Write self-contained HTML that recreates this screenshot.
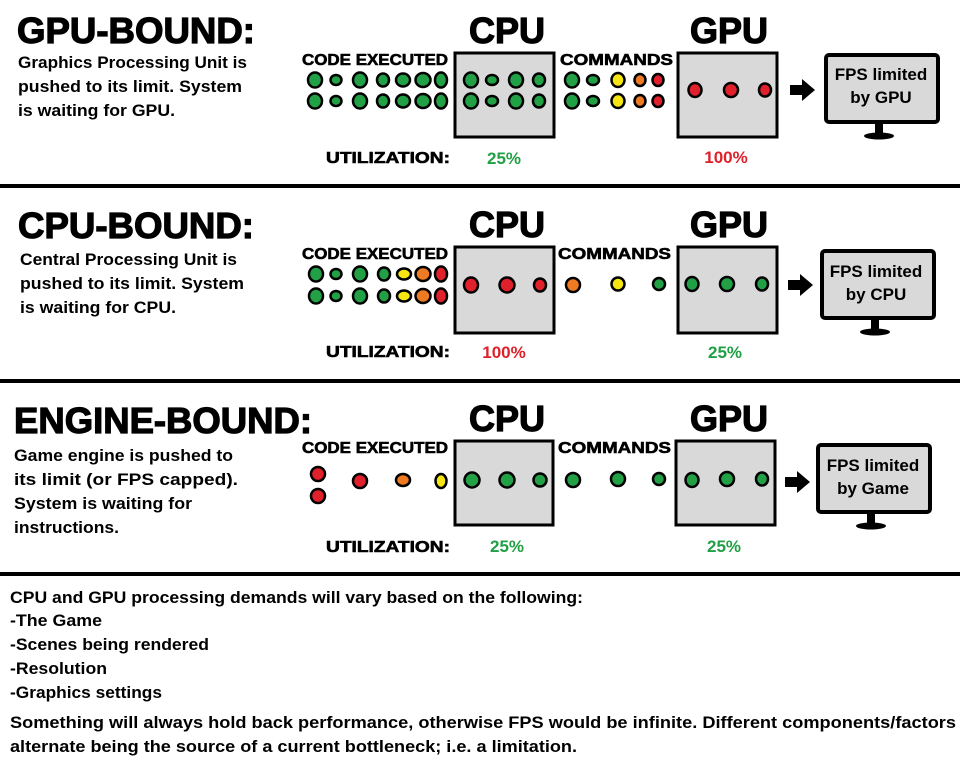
<!DOCTYPE html>
<html><head><meta charset="utf-8"><style>
html,body{margin:0;padding:0;background:#fff;}
svg{display:block;}
text{font-family:"Liberation Sans",sans-serif;font-weight:bold;fill:#000;}
.heavy{stroke:#000;stroke-width:1.2px;}
.med{stroke:#000;stroke-width:0.6px;}
</style></head><body>
<svg width="960" height="768" viewBox="0 0 960 768" xmlns="http://www.w3.org/2000/svg">
<defs>
<g id="mon">
<rect x="0" y="0" width="112" height="67" rx="3" fill="#d9d9d9" stroke="#000" stroke-width="4"/>
<rect x="49" y="67" width="8" height="12" fill="#000"/>
<ellipse cx="53" cy="81" rx="15" ry="3.5" fill="#000"/>
</g>
<g id="arr"><polygon points="0,-5 12,-5 12,-11 25,0 12,11 12,5 0,5" fill="#000"/></g>
</defs>
<g stroke="#000" stroke-width="2.5">
<g fill="#22a045">
<ellipse cx="315" cy="80" rx="7" ry="7.5"/><ellipse cx="336" cy="80" rx="5.5" ry="5"/><ellipse cx="360" cy="80" rx="7" ry="7.5"/><ellipse cx="383" cy="80" rx="6" ry="6.5"/><ellipse cx="403" cy="80" rx="7" ry="6.5"/><ellipse cx="423" cy="80" rx="7.5" ry="7"/><ellipse cx="441" cy="80" rx="6" ry="7.5"/>
<ellipse cx="315" cy="101" rx="7" ry="7.5"/><ellipse cx="336" cy="101" rx="5.5" ry="5"/><ellipse cx="360" cy="101" rx="7" ry="7.5"/><ellipse cx="383" cy="101" rx="6" ry="6.5"/><ellipse cx="403" cy="101" rx="7" ry="6.5"/><ellipse cx="423" cy="101" rx="7.5" ry="7"/><ellipse cx="441" cy="101" rx="6" ry="7.5"/>
</g>
<rect x="455" y="53" width="99" height="84" fill="#d9d9d9" stroke-width="3"/>
<g fill="#22a045">
<ellipse cx="471" cy="80" rx="7" ry="7.5"/><ellipse cx="492" cy="80" rx="6" ry="5"/><ellipse cx="516" cy="80" rx="7" ry="7.5"/><ellipse cx="539" cy="80" rx="6" ry="6.5"/>
<ellipse cx="471" cy="101" rx="7" ry="7.5"/><ellipse cx="492" cy="101" rx="6" ry="5"/><ellipse cx="516" cy="101" rx="7" ry="7.5"/><ellipse cx="539" cy="101" rx="6" ry="6.5"/>
<ellipse cx="572" cy="80" rx="7" ry="7.5"/><ellipse cx="593" cy="80" rx="6" ry="5"/>
<ellipse cx="572" cy="101" rx="7" ry="7.5"/><ellipse cx="593" cy="101" rx="6" ry="5"/>
</g>
<ellipse cx="618" cy="80" rx="6.5" ry="7" fill="#f5e513"/><ellipse cx="618" cy="101" rx="6.5" ry="7" fill="#f5e513"/>
<ellipse cx="640" cy="80" rx="5.5" ry="6" fill="#ee7a22"/><ellipse cx="640" cy="101" rx="5.5" ry="6" fill="#ee7a22"/>
<ellipse cx="658" cy="80" rx="5.5" ry="6" fill="#e0202a"/><ellipse cx="658" cy="101" rx="5.5" ry="6" fill="#e0202a"/>
<rect x="678" y="53" width="99" height="84" fill="#d9d9d9" stroke-width="3"/>
<ellipse cx="695" cy="90" rx="6.5" ry="7" fill="#e0202a"/><ellipse cx="731" cy="90" rx="7" ry="7" fill="#e0202a"/><ellipse cx="765" cy="90" rx="6" ry="6.5" fill="#e0202a"/>

<g fill="#22a045">
<ellipse cx="316" cy="274" rx="7" ry="7.5"/><ellipse cx="336" cy="274" rx="5.5" ry="5"/><ellipse cx="360" cy="274" rx="7" ry="7.5"/><ellipse cx="384" cy="274" rx="6" ry="6.5"/>
<ellipse cx="316" cy="296" rx="7" ry="7.5"/><ellipse cx="336" cy="296" rx="5.5" ry="5"/><ellipse cx="360" cy="296" rx="7" ry="7.5"/><ellipse cx="384" cy="296" rx="6" ry="6.5"/>
</g>
<ellipse cx="404" cy="274" rx="7" ry="5.5" fill="#f5e513"/><ellipse cx="404" cy="296" rx="7" ry="5.5" fill="#f5e513"/>
<ellipse cx="423" cy="274" rx="7.5" ry="7" fill="#ee7a22"/><ellipse cx="423" cy="296" rx="7.5" ry="7" fill="#ee7a22"/>
<ellipse cx="441" cy="274" rx="6" ry="7.5" fill="#e0202a"/><ellipse cx="441" cy="296" rx="6" ry="7.5" fill="#e0202a"/>
<rect x="455" y="247" width="99" height="86" fill="#d9d9d9" stroke-width="3"/>
<ellipse cx="471" cy="285" rx="7" ry="7.5" fill="#e0202a"/><ellipse cx="507" cy="285" rx="7.5" ry="7.5" fill="#e0202a"/><ellipse cx="540" cy="285" rx="6" ry="6.5" fill="#e0202a"/>
<ellipse cx="573" cy="285" rx="7" ry="7" fill="#ee7a22"/><ellipse cx="618" cy="284" rx="6.5" ry="6.5" fill="#f5e513"/><ellipse cx="659" cy="284" rx="6" ry="6" fill="#22a045"/>
<rect x="678" y="247" width="99" height="86" fill="#d9d9d9" stroke-width="3"/>
<ellipse cx="692" cy="284" rx="6.5" ry="7" fill="#22a045"/><ellipse cx="727" cy="284" rx="7" ry="7" fill="#22a045"/><ellipse cx="762" cy="284" rx="6" ry="6.5" fill="#22a045"/>

<ellipse cx="318" cy="474" rx="7" ry="7" fill="#e0202a"/><ellipse cx="318" cy="496" rx="7" ry="7" fill="#e0202a"/>
<ellipse cx="360" cy="481" rx="7" ry="7" fill="#e0202a"/><ellipse cx="403" cy="480" rx="7" ry="6" fill="#ee7a22"/><ellipse cx="441" cy="481" rx="5.5" ry="7" fill="#f5e513"/>
<rect x="455" y="441" width="98" height="84" fill="#d9d9d9" stroke-width="3"/>
<g fill="#22a045">
<ellipse cx="472" cy="480" rx="7.5" ry="7.5"/><ellipse cx="507" cy="480" rx="7.5" ry="7.5"/><ellipse cx="540" cy="480" rx="6.5" ry="6.5"/>
<ellipse cx="573" cy="480" rx="7" ry="7"/><ellipse cx="618" cy="479" rx="7" ry="7"/><ellipse cx="659" cy="479" rx="6" ry="6"/>
</g>
<rect x="676" y="441" width="99" height="84" fill="#d9d9d9" stroke-width="3"/>
<g fill="#22a045"><ellipse cx="692" cy="480" rx="6.5" ry="7"/><ellipse cx="727" cy="479" rx="7" ry="7"/><ellipse cx="762" cy="479" rx="6" ry="6.5"/></g>
</g>

<use href="#arr" x="790" y="90"/><use href="#mon" x="826" y="55"/>
<use href="#arr" x="788" y="285"/><use href="#mon" x="822" y="251"/>
<use href="#arr" x="785" y="482"/><use href="#mon" x="818" y="445"/>

<rect x="0" y="184" width="960" height="4" fill="#000"/>
<rect x="0" y="379" width="960" height="4" fill="#000"/>
<rect x="0" y="572" width="960" height="4" fill="#000"/>

<text class="heavy" x="17" y="43" font-size="36" textLength="238" lengthAdjust="spacingAndGlyphs">GPU-BOUND:</text>
<text x="18" y="68" font-size="17" textLength="229" lengthAdjust="spacingAndGlyphs">Graphics Processing Unit is</text>
<text x="18" y="92" font-size="17" textLength="224" lengthAdjust="spacingAndGlyphs">pushed to its limit. System</text>
<text x="18" y="116" font-size="17" textLength="157" lengthAdjust="spacingAndGlyphs">is waiting for GPU.</text>

<text class="heavy" x="18" y="238" font-size="36" textLength="236" lengthAdjust="spacingAndGlyphs">CPU-BOUND:</text>
<text x="20" y="265" font-size="17" textLength="217" lengthAdjust="spacingAndGlyphs">Central Processing Unit is</text>
<text x="20" y="289" font-size="17" textLength="224" lengthAdjust="spacingAndGlyphs">pushed to its limit. System</text>
<text x="20" y="313" font-size="17" textLength="156" lengthAdjust="spacingAndGlyphs">is waiting for CPU.</text>

<text class="heavy" x="14" y="433" font-size="36" textLength="298" lengthAdjust="spacingAndGlyphs">ENGINE-BOUND:</text>
<text x="14" y="461" font-size="17" textLength="219" lengthAdjust="spacingAndGlyphs">Game engine is pushed to</text>
<text x="14" y="485" font-size="17" textLength="224" lengthAdjust="spacingAndGlyphs">its limit (or FPS capped).</text>
<text x="14" y="509" font-size="17" textLength="178" lengthAdjust="spacingAndGlyphs">System is waiting for</text>
<text x="14" y="533" font-size="17" textLength="105" lengthAdjust="spacingAndGlyphs">instructions.</text>

<g font-size="36" text-anchor="middle" class="heavy">
<text x="507" y="43">CPU</text><text x="729" y="43">GPU</text>
<text x="507" y="237">CPU</text><text x="729" y="237">GPU</text>
<text x="507" y="431">CPU</text><text x="729" y="431">GPU</text>
</g>
<g font-size="16" class="med">
<text x="302" y="65" textLength="146" lengthAdjust="spacingAndGlyphs">CODE EXECUTED</text>
<text x="560" y="65" textLength="113" lengthAdjust="spacingAndGlyphs">COMMANDS</text>
<text x="302" y="259" textLength="146" lengthAdjust="spacingAndGlyphs">CODE EXECUTED</text>
<text x="558" y="259" textLength="113" lengthAdjust="spacingAndGlyphs">COMMANDS</text>
<text x="302" y="453" textLength="146" lengthAdjust="spacingAndGlyphs">CODE EXECUTED</text>
<text x="558" y="453" textLength="113" lengthAdjust="spacingAndGlyphs">COMMANDS</text>
<text x="326" y="163" textLength="124" lengthAdjust="spacingAndGlyphs">UTILIZATION:</text>
<text x="326" y="357" textLength="124" lengthAdjust="spacingAndGlyphs">UTILIZATION:</text>
<text x="326" y="552" textLength="124" lengthAdjust="spacingAndGlyphs">UTILIZATION:</text>
</g>
<g font-size="17" text-anchor="middle">
<text x="504" y="164" style="fill:#22a045">25%</text>
<text x="726" y="163" style="fill:#e0202a">100%</text>
<text x="504" y="358" style="fill:#e0202a">100%</text>
<text x="725" y="358" style="fill:#22a045">25%</text>
<text x="507" y="552" style="fill:#22a045">25%</text>
<text x="724" y="552" style="fill:#22a045">25%</text>
</g>
<g font-size="17" text-anchor="middle">
<text x="881" y="80">FPS limited</text><text x="881" y="103">by GPU</text>
<text x="876" y="277">FPS limited</text><text x="876" y="300">by CPU</text>
<text x="873" y="471">FPS limited</text><text x="873" y="494">by Game</text>
</g>
<g font-size="17">
<text x="10" y="603" textLength="573" lengthAdjust="spacingAndGlyphs">CPU and GPU processing demands will vary based on the following:</text>
<text x="10" y="626" textLength="92" lengthAdjust="spacingAndGlyphs">-The Game</text>
<text x="10" y="650" textLength="199" lengthAdjust="spacingAndGlyphs">-Scenes being rendered</text>
<text x="10" y="674" textLength="97" lengthAdjust="spacingAndGlyphs">-Resolution</text>
<text x="10" y="698" textLength="152" lengthAdjust="spacingAndGlyphs">-Graphics settings</text>
<text x="10" y="728" textLength="946" lengthAdjust="spacingAndGlyphs">Something will always hold back performance, otherwise FPS would be infinite. Different components/factors</text>
<text x="10" y="752" textLength="567" lengthAdjust="spacingAndGlyphs">alternate being the source of a current bottleneck; i.e. a limitation.</text>
</g>
</svg>
</body></html>
